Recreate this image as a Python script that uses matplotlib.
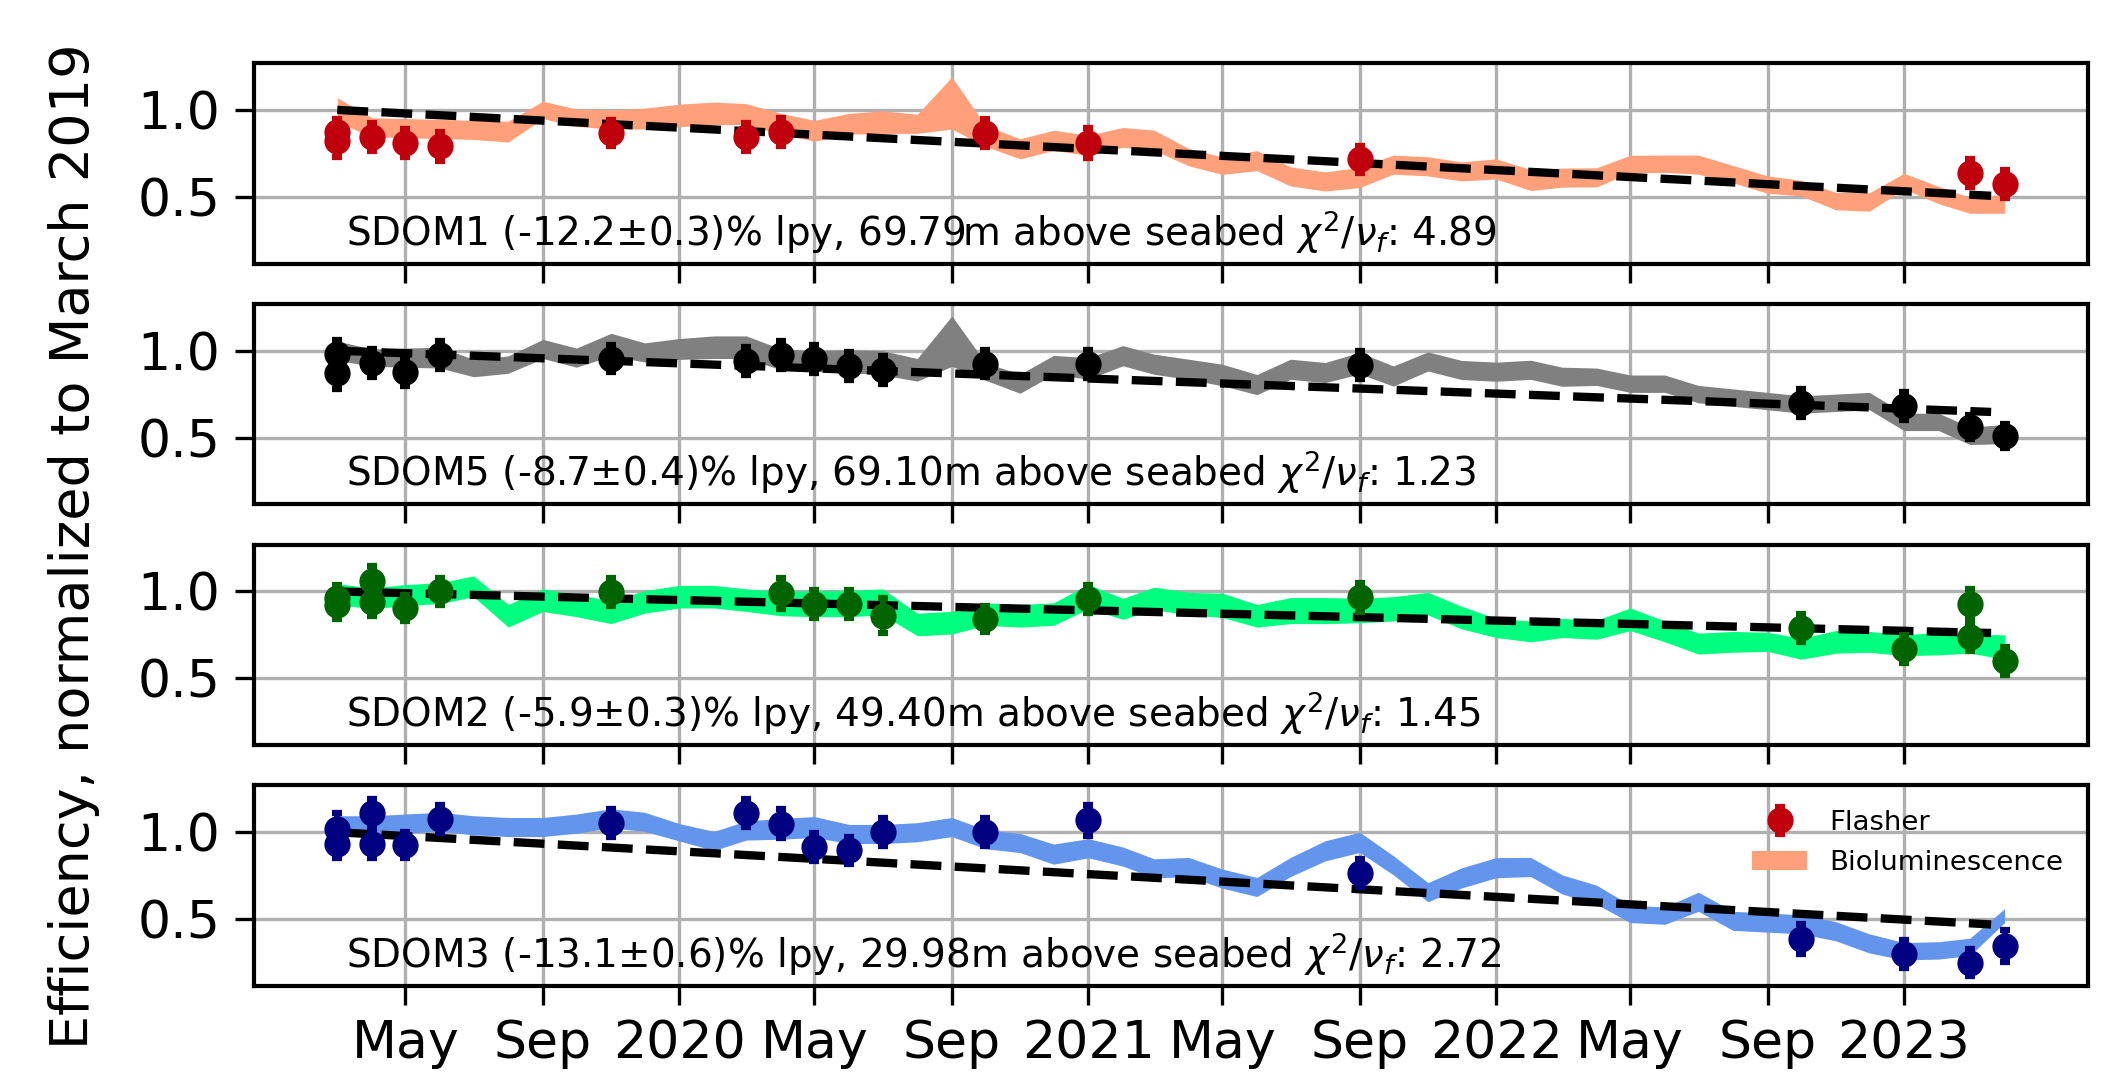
"""Flasher vs bioluminescence efficiency of four SDOMs, normalized to March 2019."""
import matplotlib

matplotlib.use("Agg")
import matplotlib.pyplot as plt  # noqa: E402
import pandas as pd  # noqa: E402
from matplotlib.patches import Patch  # noqa: E402

# ---- data -------------------------------------------------------------
# bioluminescence band: one sample per month, Mar 2019 .. Apr 2023
bio_months = pd.date_range("2019-03-01", "2023-04-01", freq="MS")

bio_sdom1 = [1.00, 0.90, 0.895, 0.89, 0.885, 0.875, 1.00, 0.955, 0.945, 0.95,
             0.968, 0.98, 0.976, 0.92, 0.88, 0.92, 0.93, 0.92, 1.04, 0.85,
             0.776, 0.825, 0.796, 0.842, 0.825, 0.728, 0.679, 0.708, 0.617, 0.588,
             0.611, 0.685, 0.675, 0.646, 0.66, 0.596, 0.61, 0.612, 0.689, 0.69,
             0.685, 0.63, 0.57, 0.55, 0.475, 0.47, 0.59, 0.51, 0.45, 0.46]
bio_sdom1_hw = [0.07, 0.055, 0.055, 0.055, 0.055, 0.06, 0.05, 0.05, 0.055, 0.06,
                0.065, 0.065, 0.06, 0.06, 0.06, 0.06, 0.065, 0.055, 0.15, 0.06,
                0.058, 0.058, 0.058, 0.057, 0.058, 0.05, 0.05, 0.058, 0.055, 0.055,
                0.058, 0.055, 0.055, 0.055, 0.058, 0.06, 0.055, 0.055, 0.05, 0.05,
                0.055, 0.05, 0.05, 0.045, 0.05, 0.053, 0.045, 0.05, 0.045, 0.055]

bio_sdom5 = [1.00, 0.96, 0.96, 0.96, 0.90, 0.92, 1.01, 0.96, 1.035, 0.99,
             1.01, 1.02, 1.02, 0.95, 0.94, 0.94, 0.93, 0.89, 1.055, 0.88,
             0.81, 0.918, 0.898, 0.971, 0.922, 0.893, 0.86, 0.805, 0.893, 0.874,
             0.928, 0.854, 0.938, 0.889, 0.879, 0.89, 0.85, 0.85, 0.81, 0.81,
             0.75, 0.73, 0.71, 0.69, 0.70, 0.71, 0.59, 0.59, 0.51, 0.52]
bio_sdom5_hw = [0.055, 0.05, 0.055, 0.06, 0.05, 0.05, 0.055, 0.055, 0.065, 0.055,
                0.06, 0.065, 0.065, 0.06, 0.06, 0.065, 0.07, 0.065, 0.145, 0.05,
                0.055, 0.055, 0.062, 0.058, 0.058, 0.058, 0.062, 0.058, 0.058, 0.058,
                0.062, 0.058, 0.055, 0.055, 0.055, 0.055, 0.055, 0.05, 0.05, 0.05,
                0.05, 0.05, 0.05, 0.05, 0.05, 0.05, 0.05, 0.05, 0.05, 0.055]

bio_sdom2 = [0.985, 0.96, 0.98, 0.99, 1.03, 0.86, 0.95, 0.92, 0.88, 0.94,
             0.97, 0.97, 0.95, 0.93, 0.93, 0.93, 0.94, 0.81, 0.82, 0.87,
             0.86, 0.87, 0.97, 0.90, 0.96, 0.93, 0.92, 0.86, 0.89, 0.89,
             0.89, 0.90, 0.93, 0.85, 0.79, 0.77, 0.79, 0.78, 0.84, 0.77,
             0.70, 0.71, 0.71, 0.67, 0.71, 0.71, 0.69, 0.70, 0.70, 0.68]
bio_sdom2_hw = [0.06, 0.06, 0.06, 0.06, 0.06, 0.065, 0.065, 0.065, 0.065, 0.065,
                0.065, 0.065, 0.065, 0.07, 0.075, 0.075, 0.075, 0.065, 0.065, 0.065,
                0.065, 0.065, 0.07, 0.06, 0.065, 0.065, 0.07, 0.065, 0.075, 0.075,
                0.07, 0.07, 0.065, 0.065, 0.055, 0.06, 0.055, 0.055, 0.065, 0.06,
                0.06, 0.06, 0.055, 0.06, 0.065, 0.06, 0.06, 0.065, 0.055, 0.07]

bio_sdom3 = [1.04, 1.04, 1.05, 1.06, 1.04, 1.03, 1.03, 1.05, 1.08, 1.06,
             1.00, 0.95, 1.01, 1.02, 1.03, 0.99, 0.99, 1.00, 1.03, 0.96,
             0.938, 0.874, 0.908, 0.86, 0.792, 0.80, 0.733, 0.685, 0.80, 0.893,
             0.942, 0.81, 0.655, 0.737, 0.796, 0.80, 0.70, 0.64, 0.53, 0.52,
             0.60, 0.49, 0.48, 0.47, 0.43, 0.36, 0.315, 0.32, 0.34, 0.52]
bio_sdom3_hw = [0.055, 0.055, 0.055, 0.055, 0.055, 0.055, 0.055, 0.055, 0.055, 0.055,
                0.05, 0.055, 0.055, 0.06, 0.06, 0.055, 0.055, 0.055, 0.055, 0.055,
                0.055, 0.058, 0.055, 0.055, 0.055, 0.055, 0.055, 0.055, 0.055, 0.058,
                0.058, 0.055, 0.055, 0.058, 0.058, 0.055, 0.055, 0.055, 0.05, 0.05,
                0.055, 0.055, 0.055, 0.055, 0.055, 0.055, 0.05, 0.05, 0.05, 0.04]

# flasher measurements
fl_sdom1_dates = ["2019-03-01", "2019-03-01", "2019-04-01", "2019-05-01", "2019-06-01",
                  "2019-11-01", "2020-03-01", "2020-04-01", "2020-10-01", "2021-01-01",
                  "2021-09-01", "2023-03-01", "2023-04-01"]
fl_sdom1 = [0.82, 0.87, 0.845, 0.81, 0.79, 0.865, 0.845, 0.875, 0.865, 0.81,
            0.715, 0.635, 0.575]
fl_sdom1_err = [0.09, 0.08, 0.08, 0.08, 0.085, 0.075, 0.08, 0.08, 0.08, 0.085,
                0.08, 0.08, 0.08]

fl_sdom5_dates = ["2019-03-01", "2019-03-01", "2019-04-01", "2019-05-01", "2019-06-01",
                  "2019-11-01", "2020-03-01", "2020-04-01", "2020-05-01", "2020-06-01",
                  "2020-07-01", "2020-10-01", "2021-01-01", "2021-09-01", "2022-10-01",
                  "2023-01-01", "2023-03-01", "2023-04-01"]
fl_sdom5 = [0.98, 0.87, 0.93, 0.876, 0.975, 0.955, 0.94, 0.975, 0.95, 0.91,
            0.89, 0.926, 0.922, 0.918, 0.70, 0.68, 0.56, 0.51]
fl_sdom5_err = [0.08, 0.09, 0.08, 0.08, 0.08, 0.08, 0.08, 0.08, 0.08, 0.08,
                0.08, 0.08, 0.082, 0.08, 0.08, 0.08, 0.07, 0.07]

fl_sdom2_dates = ["2019-03-01", "2019-03-01", "2019-04-01", "2019-04-01", "2019-05-01",
                  "2019-06-01", "2019-11-01", "2020-04-01", "2020-05-01", "2020-06-01",
                  "2020-07-01", "2020-10-01", "2021-01-01", "2021-09-01", "2022-10-01",
                  "2023-01-01", "2023-03-01", "2023-03-01", "2023-04-01"]
fl_sdom2 = [0.96, 0.92, 1.06, 0.94, 0.907, 1.0, 0.995, 0.99, 0.927, 0.93,
            0.86, 0.843, 0.956, 0.966, 0.79, 0.67, 0.93, 0.74, 0.60]
fl_sdom2_err = [0.08, 0.08, 0.085, 0.08, 0.075, 0.08, 0.08, 0.09, 0.08, 0.08,
                0.1, 0.075, 0.08, 0.085, 0.08, 0.08, 0.085, 0.08, 0.08]

fl_sdom3_dates = ["2019-03-01", "2019-03-01", "2019-04-01", "2019-04-01", "2019-05-01",
                  "2019-06-01", "2019-11-01", "2020-03-01", "2020-04-01", "2020-05-01",
                  "2020-06-01", "2020-07-01", "2020-10-01", "2021-01-01", "2021-09-01",
                  "2022-10-01", "2023-01-01", "2023-03-01", "2023-04-01"]
fl_sdom3 = [1.02, 0.93, 1.11, 0.93, 0.925, 1.075, 1.055, 1.11, 1.05, 0.915,
            0.895, 1.0, 1.0, 1.068, 0.767, 0.385, 0.30, 0.25, 0.345]
fl_sdom3_err = [0.09, 0.08, 0.08, 0.08, 0.075, 0.08, 0.08, 0.08, 0.085, 0.08,
                0.075, 0.08, 0.08, 0.088, 0.08, 0.085, 0.08, 0.08, 0.09]

# fitted loss per year (linear), fit window
fit_rates = [0.122, 0.087, 0.059, 0.131]
fit_window = ["2019-03-01", "2023-03-20"]

labels = [
    r"SDOM1 (-12.2$\pm$0.3)% lpy, 69.79m above seabed $\chi^2/\nu_f$: 4.89",
    r"SDOM5 (-8.7$\pm$0.4)% lpy, 69.10m above seabed $\chi^2/\nu_f$: 1.23",
    r"SDOM2 (-5.9$\pm$0.3)% lpy, 49.40m above seabed $\chi^2/\nu_f$: 1.45",
    r"SDOM3 (-13.1$\pm$0.6)% lpy, 29.98m above seabed $\chi^2/\nu_f$: 2.72",
]

tick_dates = ["2019-05-01", "2019-09-01", "2020-01-01", "2020-05-01", "2020-09-01",
              "2021-01-01", "2021-05-01", "2021-09-01", "2022-01-01", "2022-05-01",
              "2022-09-01", "2023-01-01"]
tick_labels = ["May", "Sep", "2020", "May", "Sep", "2021", "May", "Sep", "2022",
               "May", "Sep", "2023"]

panels = [
    (bio_sdom1, bio_sdom1_hw, fl_sdom1_dates, fl_sdom1, fl_sdom1_err, "#ffa07a", "#c0000c"),
    (bio_sdom5, bio_sdom5_hw, fl_sdom5_dates, fl_sdom5, fl_sdom5_err, "#808080", "black"),
    (bio_sdom2, bio_sdom2_hw, fl_sdom2_dates, fl_sdom2, fl_sdom2_err, "#00ff7f", "#006400"),
    (bio_sdom3, bio_sdom3_hw, fl_sdom3_dates, fl_sdom3, fl_sdom3_err, "#6495ed", "#000080"),
]

# ---- plot -------------------------------------------------------------
plt.rcParams["font.family"] = "DejaVu Sans"
fig, axes = plt.subplots(4, 1, sharex=True, figsize=(2102 / 300, 1079 / 300), dpi=300)
fig.subplots_adjust(left=0.1208, right=0.9933, top=1 - 63 / 1079, bottom=1 - 986 / 1079,
                    hspace=0.2)

fit_x = pd.to_datetime(fit_window)
t0 = fit_x[0]
handles = None
for ax, (bio, hw, fdates, fvals, ferr, bcol, fcol), rate, lab in zip(
        axes, panels, fit_rates, labels):
    lo = [c - h for c, h in zip(bio, hw)]
    hi = [c + h for c, h in zip(bio, hw)]
    ax.fill_between(bio_months, lo, hi, color=bcol, linewidth=0, zorder=2)

    fit_y = [1 - rate * (d - t0).days / 365.25 for d in fit_x]
    ax.plot(fit_x, fit_y, color="black", linestyle="--", linewidth=2.0, zorder=3)

    eb = ax.errorbar(pd.to_datetime(fdates), fvals, yerr=ferr, fmt="o", color=fcol,
                     ms=5.3, elinewidth=1.5, capsize=1.2, capthick=1.5, zorder=4)
    if handles is None:
        handles = [eb, Patch(facecolor=bcol, edgecolor="none")]

    ax.text(0.0502, 0.09, lab, transform=ax.transAxes, fontsize=9.35, va="baseline",
            ha="left")

    ax.set_ylim(0.115, 1.27)
    ax.set_yticks([0.5, 1.0])
    ax.set_yticklabels(["0.5", "1.0"])
    ax.grid(True, color="#b0b0b0", linewidth=0.8)
    ax.set_axisbelow(True)
    ax.tick_params(labelsize=12.5, length=4.5, width=0.8)
    for s in ax.spines.values():
        s.set_linewidth(1.0)

axes[-1].set_xticks(pd.to_datetime(tick_dates))
axes[-1].set_xticklabels(tick_labels)
axes[-1].legend(handles, ["Flasher", "Bioluminescence"], loc="upper right",
                frameon=False, fontsize=6.6)

fig.text(0.035, 0.494, "Efficiency, normalized to March 2019", rotation=90,
         ha="center", va="center", fontsize=13)

fig.savefig("out.png", dpi=300)
